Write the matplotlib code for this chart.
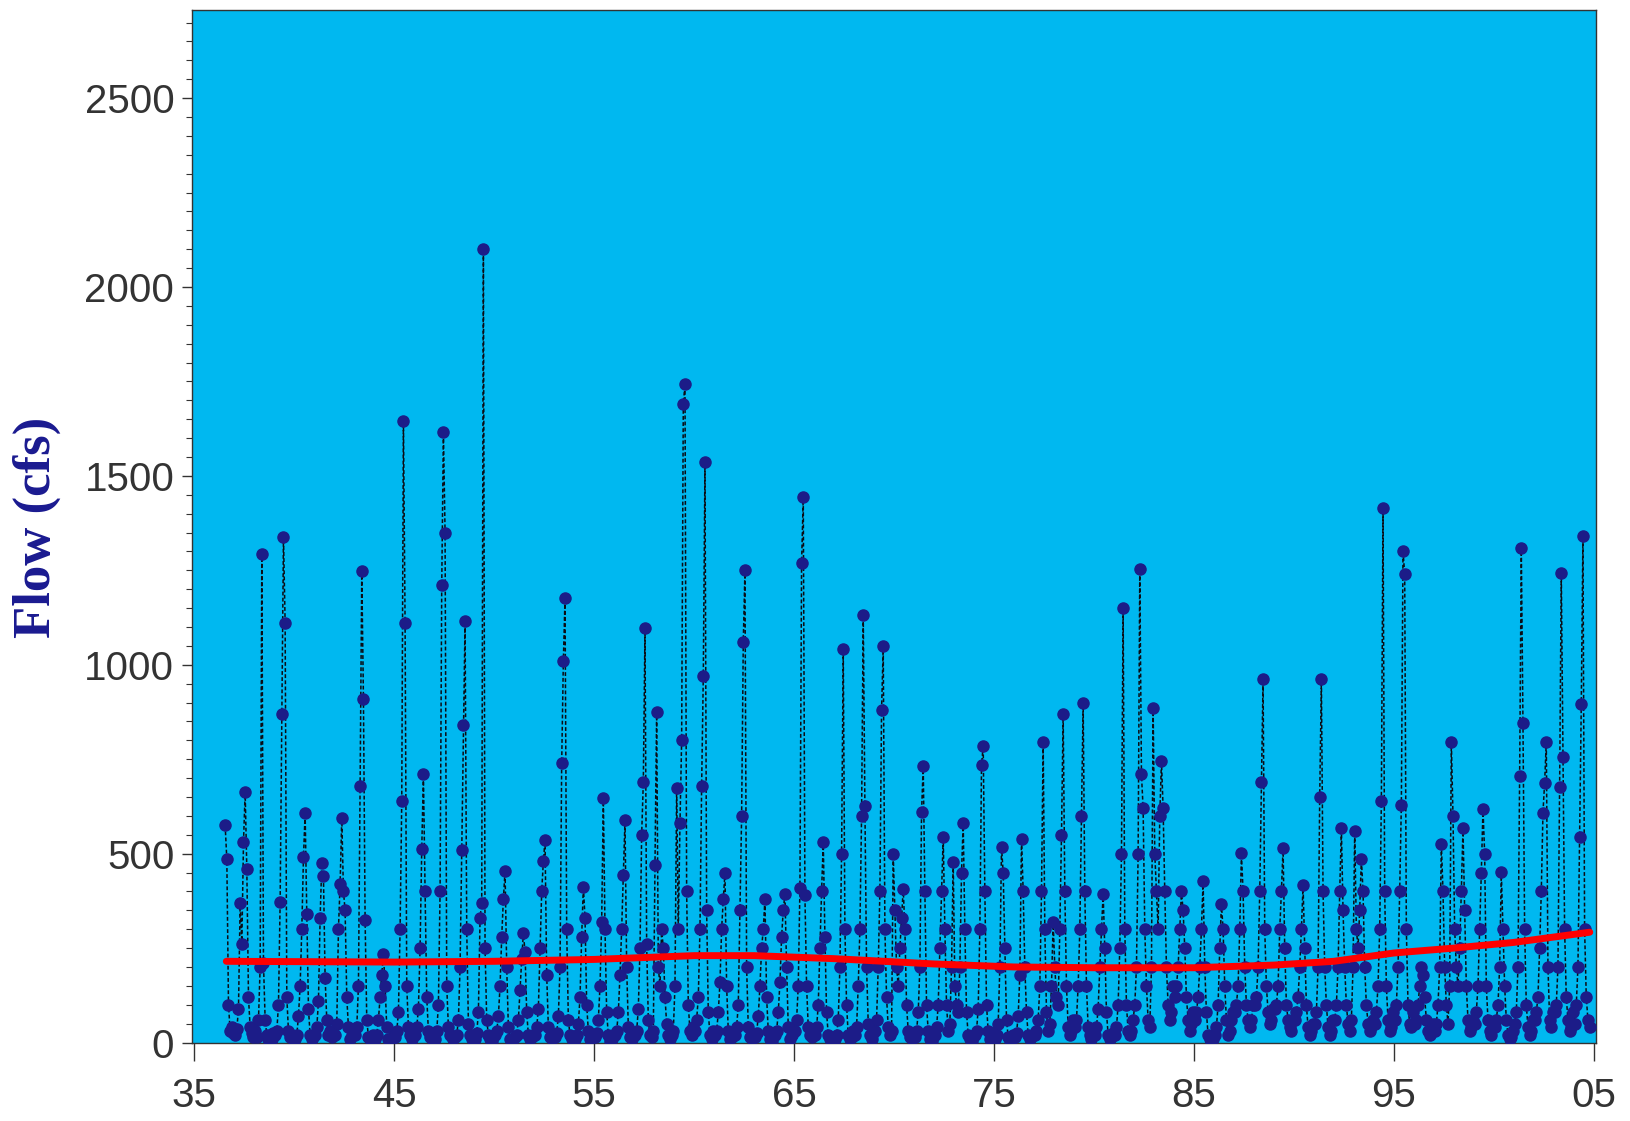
import numpy as np
import matplotlib
matplotlib.use("Agg")
import matplotlib.pyplot as plt
from matplotlib.ticker import MultipleLocator, FixedLocator

# monthly flow (cfs), one row per calendar year, Jan..Dec
# first row starts in July 1936, last row ends in October 2004
first_year = 1936
first_month = 7
monthly_flow = [
    [575, 485, 100, 30, 40, 25],                                   # 1936 Jul-Dec
    [20, 35, 90, 370, 260, 530, 663, 460, 120, 40, 25, 15],        # 1937
    [30, 15, 60, 200, 1294, 210, 60, 20, 10, 5, 10, 25],           # 1938
    [20, 30, 100, 372, 870, 1338, 1110, 120, 30, 15, 20, 10],      # 1939
    [10, 20, 70, 150, 300, 490, 608, 340, 90, 20, 10, 15],         # 1940
    [20, 40, 110, 330, 474, 440, 170, 60, 20, 30, 15, 25],         # 1941
    [20, 50, 300, 420, 595, 400, 350, 120, 40, 10, 20, 30],        # 1942
    [20, 40, 150, 680, 1247, 910, 325, 60, 15, 10, 5, 20],         # 1943
    [10, 20, 60, 120, 180, 234, 150, 40, 10, 5, 10, 15],           # 1944
    [15, 30, 80, 300, 640, 1644, 1110, 150, 40, 20, 10, 30],       # 1945
    [20, 40, 90, 250, 512, 710, 400, 120, 30, 15, 10, 20],         # 1946
    [10, 30, 100, 400, 1210, 1616, 1350, 150, 40, 20, 15, 10],     # 1947
    [15, 20, 60, 200, 510, 840, 1115, 300, 50, 20, 10, 20],        # 1948
    [10, 25, 80, 330, 370, 2100, 250, 60, 20, 10, 5, 15],          # 1949
    [20, 30, 70, 150, 280, 380, 454, 200, 40, 10, 5, 10],          # 1950
    [15, 20, 60, 140, 220, 290, 240, 80, 20, 10, 15, 20],          # 1951
    [20, 40, 90, 250, 400, 480, 537, 180, 40, 15, 10, 20],         # 1952
    [15, 25, 70, 200, 740, 1010, 1178, 300, 60, 20, 10, 15],       # 1953
    [10, 20, 50, 120, 280, 413, 330, 100, 30, 10, 15, 20],         # 1954
    [15, 25, 60, 150, 320, 647, 300, 80, 20, 5, 10, 20],           # 1955
    [20, 30, 80, 180, 300, 443, 589, 200, 40, 15, 10, 20],         # 1956
    [20, 30, 90, 250, 550, 690, 1096, 260, 60, 20, 15, 30],        # 1957
    [470, 875, 200, 150, 300, 250, 120, 50, 20, 10, 20, 30],       # 1958
    [150, 674, 300, 580, 800, 1690, 1743, 400, 100, 30, 20, 40],   # 1959
    [30, 60, 120, 300, 680, 970, 1536, 350, 80, 20, 10, 30],       # 1960
    [20, 30, 80, 160, 300, 380, 449, 150, 30, 10, 15, 25],         # 1961
    [20, 40, 100, 350, 600, 1060, 1250, 200, 40, 15, 10, 20],      # 1962
    [15, 25, 70, 150, 250, 300, 380, 120, 30, 10, 5, 20],          # 1963
    [20, 30, 80, 160, 280, 350, 394, 200, 40, 10, 20, 30],         # 1964
    [30, 60, 150, 410, 1270, 1445, 390, 150, 40, 20, 15, 30],      # 1965
    [20, 40, 100, 250, 400, 531, 280, 80, 20, 10, 5, 15],          # 1966
    [10, 20, 60, 200, 500, 1043, 300, 100, 20, 10, 15, 30],        # 1967
    [20, 40, 150, 300, 600, 1131, 627, 200, 50, 20, 10, 25],       # 1968
    [30, 60, 200, 400, 880, 1049, 300, 120, 40, 20, 30, 498],      # 1969
    [350, 200, 150, 250, 330, 407, 300, 100, 30, 15, 10, 20],      # 1970
    [15, 30, 80, 200, 610, 732, 400, 100, 30, 10, 5, 15],          # 1971
    [20, 40, 100, 250, 400, 545, 300, 100, 30, 50, 200, 479],      # 1972
    [150, 100, 80, 200, 450, 581, 300, 80, 20, 10, 5, 15],         # 1973
    [20, 30, 90, 300, 735, 785, 400, 100, 30, 10, 15, 25],         # 1974
    [10, 20, 50, 200, 518, 450, 250, 60, 15, 5, 10, 20],           # 1975
    [15, 25, 70, 180, 540, 400, 200, 80, 20, 10, 15, 20],          # 1976
    [20, 30, 60, 150, 400, 796, 300, 80, 30, 50, 150, 320],        # 1977
    [200, 120, 100, 300, 550, 870, 400, 150, 40, 20, 30, 60],      # 1978
    [40, 60, 150, 300, 600, 900, 400, 150, 40, 20, 10, 30],        # 1979
    [20, 40, 90, 200, 300, 394, 250, 80, 20, 10, 15, 25],          # 1980
    [20, 40, 100, 250, 500, 1151, 300, 100, 30, 20, 30, 60],       # 1981
    [100, 200, 500, 1253, 710, 620, 300, 150, 60, 40, 200, 886],   # 1982
    [500, 400, 300, 600, 746, 620, 400, 200, 100, 60, 80, 150],    # 1983
    [120, 150, 200, 300, 400, 350, 250, 120, 60, 30, 50, 80],      # 1984
    [60, 80, 120, 200, 300, 427, 200, 80, 20, 10, 5, 10],          # 1985
    [20, 40, 100, 250, 366, 300, 150, 60, 20, 30, 60, 80],         # 1986
    [80, 100, 150, 300, 501, 400, 200, 100, 60, 40, 60, 100],      # 1987
    [100, 120, 200, 400, 690, 961, 300, 150, 80, 50, 60, 90],      # 1988
    [90, 100, 150, 300, 400, 515, 250, 100, 60, 40, 30, 60],       # 1989
    [60, 80, 120, 200, 300, 416, 250, 100, 40, 20, 30, 50],        # 1990
    [50, 80, 200, 650, 961, 400, 200, 100, 40, 20, 30, 60],        # 1991
    [60, 100, 200, 400, 567, 350, 200, 100, 50, 30, 60, 200],      # 1992
    [559, 300, 250, 350, 487, 400, 200, 100, 50, 30, 40, 60],      # 1993
    [50, 80, 150, 300, 640, 1415, 400, 150, 60, 30, 40, 80],       # 1994
    [60, 100, 200, 400, 630, 1302, 1240, 300, 100, 50, 40, 80],    # 1995
    [50, 60, 100, 150, 200, 180, 120, 60, 30, 20, 30, 50],         # 1996
    [30, 50, 100, 200, 526, 400, 200, 100, 50, 150, 796, 600],     # 1997
    [300, 200, 150, 250, 400, 567, 350, 150, 60, 30, 40, 60],      # 1998
    [50, 80, 150, 300, 450, 619, 500, 150, 60, 30, 20, 40],        # 1999
    [40, 60, 100, 200, 451, 300, 150, 60, 20, 10, 15, 30],         # 2000
    [50, 80, 200, 705, 1310, 845, 300, 100, 40, 20, 30, 60],       # 2001
    [60, 80, 120, 250, 400, 608, 688, 796, 200, 60, 40, 80],       # 2002
    [80, 100, 200, 677, 1244, 757, 300, 120, 60, 30, 40, 80],      # 2003
    [50, 100, 200, 545, 895, 1341, 300, 120, 60, 40],              # 2004 Jan-Oct
]

# smoothed trend (red line)
trend_year = [1936.6, 1945, 1950, 1955, 1960, 1963, 1967, 1972, 1976,
              1980, 1985, 1989, 1992, 1995, 1998, 2001, 2004.8]
trend_flow = [215, 213, 215, 220, 230, 230, 222, 208, 200,
              198, 198, 205, 215, 237, 250, 265, 292]

tick_years = [1935, 1945, 1955, 1965, 1975, 1985, 1995, 2005]
tick_labels = ["35", "45", "55", "65", "75", "85", "95", "05"]

# flatten to a decimal-year series
dates, flows = [], []
for i, row in enumerate(monthly_flow):
    yr = first_year + i
    m0 = first_month if i == 0 else 1
    for j, v in enumerate(row):
        dates.append(yr + (m0 + j - 0.5) / 12.0)
        flows.append(v)

plt.rcParams["font.family"] = ["Liberation Sans", "DejaVu Sans"]

fig = plt.figure(figsize=(16.3, 11.21), dpi=100)
ax = fig.add_axes([0.118, 0.070, 0.861, 0.921])
ax.set_facecolor("#00B8F0")

ax.plot(dates, flows, color="#0c0c14", lw=1.1, dashes=(2.5, 1.5), zorder=2)
ax.plot(dates, flows, ls="none", marker="o", ms=8, color="#1c1c88",
        mec="#1c1c88", zorder=3)
ax.plot(trend_year, trend_flow, color="#ff0000", lw=5,
        solid_capstyle="round", zorder=4)

ax.set_xlim(1934.9, 2005.1)
ax.set_ylim(0, 2733)
ax.xaxis.set_major_locator(FixedLocator(tick_years))
ax.set_xticklabels(tick_labels)
ax.yaxis.set_major_locator(MultipleLocator(500))
ax.yaxis.set_minor_locator(MultipleLocator(50))

ax.tick_params(axis="x", length=13, width=1, pad=12, labelsize=29,
               colors="#333333")
ax.tick_params(axis="y", which="major", length=7, width=1, pad=6,
               labelsize=29, colors="#333333")
ax.tick_params(axis="y", which="minor", length=4, width=0.8,
               colors="#333333")
for s in ax.spines.values():
    s.set_color("#333333")
    s.set_linewidth(1)

fig.text(37 / 1630, 1 - 527 / 1121, "Flow (cfs)", rotation=90,
         ha="center", va="center", fontsize=38, fontweight="bold",
         family=["Liberation Serif", "DejaVu Serif"], color="#1a1a90")

fig.savefig("out.png", dpi=100)
